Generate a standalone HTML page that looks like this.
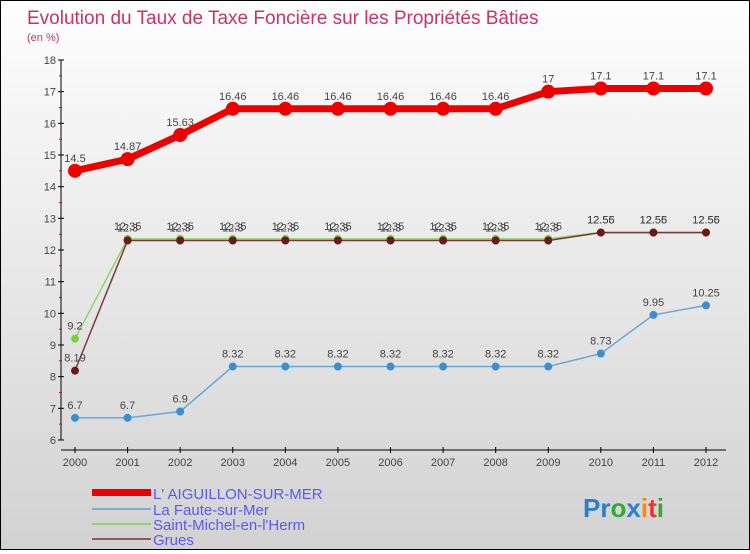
<!DOCTYPE html>
<html><head><meta charset="utf-8">
<style>
body{margin:0;width:750px;height:550px;overflow:hidden;font-family:"Liberation Sans",sans-serif}
#wrap{position:relative;width:748px;height:548px;border:1px solid #000;background:linear-gradient(#fefefe,#d2d2d2)}
</style></head><body>
<div id="wrap">
<svg id="chart" width="748" height="548">
<text x="26" y="23" font-size="19" fill="#c8336a">Evolution du Taux de Taxe Foncière sur les Propriétés Bâties</text>
<text x="26" y="40" font-size="11" fill="#c8336a">(en %)</text>
<g id="axes"></g><g id="series"></g>
<g font-size="15" fill="#5a5af0">
<rect x="91" y="488" width="59" height="7" fill="#e00"/>
<text x="152" y="498">L' AIGUILLON-SUR-MER</text>
<rect x="91" y="507" width="59" height="2" fill="#7aaed4"/>
<text x="152" y="514">La Faute-sur-Mer</text>
<rect x="91" y="522" width="59" height="2" fill="#8fd46a"/>
<text x="152" y="529">Saint-Michel-en-l'Herm</text>
<rect x="91" y="537" width="59" height="2" fill="#8a5a5a"/>
<text x="152" y="544">Grues</text>
</g>
<text x="582" y="516" font-size="26" font-weight="bold"><tspan fill="#2a7fd0">Pr</tspan><tspan fill="#3a3">o</tspan><tspan fill="#2a7fd0">x</tspan><tspan fill="#f80">i</tspan><tspan fill="#e33">t</tspan><tspan fill="#3a3">i</tspan></text>
</svg></div>
<script>
const years=[2000,2001,2002,2003,2004,2005,2006,2007,2008,2009,2010,2011,2012];
const yTicks=[6,7,8,9,10,11,12,13,14,15,16,17,18];
const aiguillon=[14.5,14.87,15.63,16.46,16.46,16.46,16.46,16.46,16.46,17,17.1,17.1,17.1];
const faute=[6.7,6.7,6.9,8.32,8.32,8.32,8.32,8.32,8.32,8.32,8.73,9.95,10.25];
const stmichel=[9.2,12.35,12.35,12.35,12.35,12.35,12.35,12.35,12.35,12.35,12.56,12.56,12.56];
const grues=[8.19,12.3,12.3,12.3,12.3,12.3,12.3,12.3,12.3,12.3,12.55,12.55,12.55];
const NS="http://www.w3.org/2000/svg";
const X=i=>74+i*(631/12);
const Y=v=>439-(v-6)*(380/12);
function mk(t,a,p){const e=document.createElementNS(NS,t);for(const k in a)e.setAttribute(k,a[k]);p.appendChild(e);return e;}
const ax=document.getElementById('axes'),sg=document.getElementById('series');
mk('line',{x1:60,y1:59,x2:60,y2:439,stroke:'#000'},ax);
mk('line',{x1:60,y1:449,x2:725,y2:449,stroke:'#000'},ax);
yTicks.forEach(v=>{
 mk('line',{x1:57,y1:Y(v),x2:63,y2:Y(v),stroke:'#000'},ax);
 if(v<18)mk('line',{x1:58,y1:Y(v+0.5),x2:61,y2:Y(v+0.5),stroke:'#e00'},ax);
 const t=mk('text',{x:55,y:Y(v)+4,'font-size':11,fill:'#444','text-anchor':'end'},ax);t.textContent=v;
 
 
});
years.forEach((yr,i)=>{
 mk('line',{x1:X(i),y1:446,x2:X(i),y2:452,stroke:'#000'},ax);
 const t=mk('text',{x:X(i),y:465,'font-size':11,fill:'#444','text-anchor':'middle'},ax);t.textContent=yr;
 
 
});
function draw(vals,color,w,r,name,dot){
 const g=mk('g',{},sg);
 
 
 mk('polyline',{points:vals.map((v,i)=>X(i)+','+Y(v)).join(' '),fill:'none',stroke:color,'stroke-width':w},g);
 vals.forEach((v,i)=>{
  const c=mk('circle',{cx:X(i),cy:Y(v),r:r,fill:dot||color},g);
  
  
  const t=mk('text',{x:X(i),y:Y(v)-9,'font-size':11,fill:'#444','text-anchor':'middle'},g);t.textContent=v;
  
  
 });
}
draw(faute,'#6aa8d8',1.5,4,'faute','#3b8fd0');
draw(stmichel,'#8fd46a',1.5,4,'saint-michel','#7cd040');
draw(grues,'#7a3a3a',1.5,4,'grues','#6a1a1a');
draw(aiguillon,'#e00',7,7,'aiguillon');
</script>
</body></html>
